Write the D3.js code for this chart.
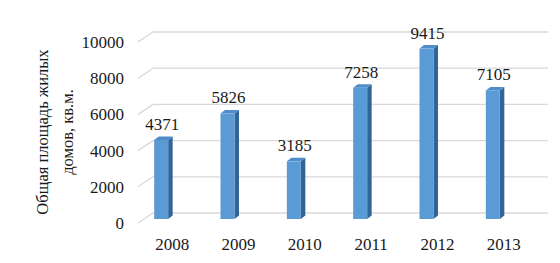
<!DOCTYPE html>
<html>
<head>
<meta charset="utf-8">
<script src="https://cdn.jsdelivr.net/npm/d3@7"></script>
<style>
  body { margin: 0; background: #fff; }
  svg text { font-family: "Liberation Serif", "Times New Roman", serif; fill: #1a1a1a; }
</style>
</head>
<body>
<svg id="chart" width="560" height="263"></svg>
<script>
// данные графика
const years = ["2008", "2009", "2010", "2011", "2012", "2013"]
const values = [4371, 5826, 3185, 7258, 9415, 7105]
const yTicks = [0, 2000, 4000, 6000, 8000, 10000]
const axisTitle = ["Общая площадь жилых", "домов, кв.м."]

const svg = d3.select("#chart")

// плоскость столбцов (середина глубины)
const y = d3.scaleLinear().domain([0, 10000]).range([219, 38])
const x = d3.scaleBand().domain(years).range([139, 537])

// смещения передней и задней плоскостей
const front = { dx: -6, dy: 4 }
const back = { dx: 9, dy: -6 }
const wallRight = 548

// сетка
const grid = svg.append("g")
yTicks.forEach(t => {
    const yb = y(t) + back.dy
    const yf = y(t) + front.dy
    grid.append("line")
        .attr("x1", 138).attr("y1", yf)
        .attr("x2", 153).attr("y2", yb)
        .attr("stroke", "#d9d9d9").attr("stroke-width", 1.3)
    grid.append("line")
        .attr("x1", 153).attr("y1", yb)
        .attr("x2", wallRight).attr("y2", yb)
        .attr("stroke", "#d9d9d9").attr("stroke-width", 1.3)
})

// подписи оси Y
svg.append("g").selectAll("text")
    .data(yTicks)
    .enter().append("text")
    .attr("x", 124)
    .attr("y", d => y(d) + front.dy)
    .attr("dy", "0.35em")
    .attr("text-anchor", "end")
    .style("font-size", "17px")
    .text(d => d)

// подписи оси X
svg.append("g").selectAll("text")
    .data(years)
    .enter().append("text")
    .attr("x", d => x(d) + x.bandwidth() / 2)
    .attr("y", 244)
    .attr("dy", "0.35em")
    .attr("text-anchor", "middle")
    .style("font-size", "17px")
    .text(d => d)

// заголовок оси
const title = svg.append("text")
    .attr("transform", "translate(42,132) rotate(-90)")
    .attr("text-anchor", "middle")
    .style("font-size", "16.5px")
title.selectAll("tspan")
    .data(axisTitle)
    .enter().append("tspan")
    .attr("x", 0)
    .attr("y", (d, i) => i * 25)
    .attr("dy", "0.35em")
    .text(d => d)

// 3D столбцы
const bw = 14, sd = 4.5, su = 3.5
const bars = svg.append("g")
years.forEach((yr, i) => {
    const x0 = x(yr) + x.bandwidth() / 2 - 18
    const x1 = x0 + bw
    const yt = y(values[i])
    const yb = y(0)
    // боковая грань
    bars.append("polygon")
        .attr("points", [[x1, yt], [x1 + sd, yt - su], [x1 + sd, yb - su], [x1, yb]].join(" "))
        .attr("fill", "#31659a")
    // верхняя грань
    bars.append("polygon")
        .attr("points", [[x0, yt], [x0 + sd, yt - su], [x1 + sd, yt - su], [x1, yt]].join(" "))
        .attr("fill", "#4f8cc9")
    // передняя грань
    bars.append("rect")
        .attr("x", x0).attr("y", yt)
        .attr("width", bw).attr("height", yb - yt)
        .attr("fill", "#5b9bd5")
    // значение
    bars.append("text")
        .attr("x", x0 + bw / 2 + 1)
        .attr("y", yt - 16)
        .attr("dy", "0.35em")
        .attr("text-anchor", "middle")
        .style("font-size", "17px")
        .text(values[i])
})
</script>
</body>
</html>
